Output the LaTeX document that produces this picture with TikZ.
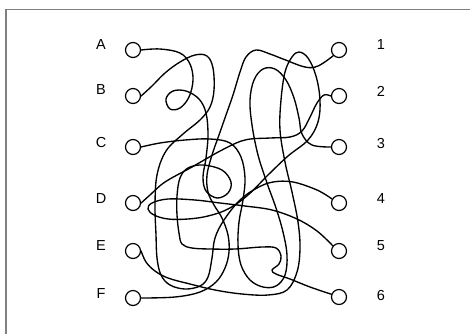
\documentclass[tikz,border=0pt]{standalone}
\usepackage{fontspec}
\setmainfont{Liberation Sans}
\begin{document}
\begin{tikzpicture}[x=1pt,y=-1pt,
  ring/.style={circle,draw,line width=1.2pt,minimum size=15pt,inner sep=0pt},
  wire/.style={line width=1.35pt,line cap=round,line join=round},
  lbl/.style={font=\fontsize{14.5}{16}\selectfont,inner sep=0pt},
  frameline/.style={draw=black!50,line width=1.4pt}]
\useasboundingbox (0,0) rectangle (470,333);
\draw[frameline] (6,345) -- (6,9.3) -- (480,9.3);
% labels
\node[lbl] (lA) at (101,45) {A};
\node[lbl] (lB) at (101,90) {B};
\node[lbl] (lC) at (101,143) {C};
\node[lbl] (lD) at (101,199) {D};
\node[lbl] (lE) at (101,246) {E};
\node[lbl] (lF) at (101,294) {F};
\node[lbl] (l1) at (381,45) {1};
\node[lbl] (l2) at (381,91) {2};
\node[lbl] (l3) at (381,144) {3};
\node[lbl] (l4) at (381,199) {4};
\node[lbl] (l5) at (381,246) {5};
\node[lbl] (l6) at (381,295) {6};
% circles
\node[ring] (A) at (133,50) {};
\node[ring] (B) at (133,96) {};
\node[ring] (C) at (133,147) {};
\node[ring] (D) at (133,203) {};
\node[ring] (E) at (133,251) {};
\node[ring] (F) at (133,298) {};
\node[ring] (n1) at (339,50) {};
\node[ring] (n2) at (339,96) {};
\node[ring] (n3) at (339,147) {};
\node[ring] (n4) at (339,203) {};
\node[ring] (n5) at (339,251) {};
\node[ring] (n6) at (339,297) {};
% A -> 6
\draw[wire] plot[smooth,tension=0.6] coordinates {(A.east) (160,49) (180,53) (190,64) (193,80) (189,97) (180,108) (170,109) (166,99) (173,91) (186,91) (199,99) (206,113) (208,135) (206,158) (203,177) (206,191) (217,198) (228,193) (231,182) (222,170) (203,165) (188,168) (180,178) (177,196) (177,215) (179,233) (182,244) (192,248) (210,249) (235,249) (262,247) (276,248) (281,256) (279,264) (272,270) (276,274) (290,279) (310,287) (n6.160)};
% B -> 4
\draw[wire] plot[smooth,tension=0.6] coordinates {(B.east) (152,86) (165,73) (180,62) (195,55) (207,56) (213,68) (214,90) (210,107) (200,120) (183,134) (166,151) (157,175) (155,205) (156,235) (157,258) (161,275) (170,285) (185,289) (200,286) (208,277) (212,258) (215,238) (224,220) (240,200) (257,188) (273,182) (293,182) (317,190) (n4.150)};
% C -> 3
\draw[wire] plot[smooth,tension=0.6] coordinates {(C.east) (160,143) (185,140) (210,139) (230,143) (241,157) (245,178) (243,200) (239,222) (238,245) (241,265) (250,280) (263,287) (276,286) (285,275) (287,255) (283,232) (276,208) (267,183) (258,155) (252,125) (250,100) (254,80) (263,69) (275,69) (286,80) (294,98) (299,118) (302,134) (312,145) (n3.west)};
% D -> 2
\draw[wire] plot[smooth,tension=0.6] coordinates {(D.east) (150,195) (165,182) (192,167) (222,150) (245,140) (270,138) (290,137) (302,131) (310,117) (317,103) (324,95) (n2.west)};
% E -> 5
\draw[wire] plot[smooth,tension=0.6] coordinates {(E.east) (146,262) (155,271) (168,278) (190,284) (215,290) (242,294) (268,295) (287,290) (297,272) (300,248) (298,222) (292,192) (285,162) (280,130) (281,100) (285,72) (292,57) (299,52) (308,58) (316,76) (320,100) (318,122) (308,140) (288,156) (268,175) (248,195) (228,209) (208,216) (188,219) (168,219) (154,215) (148,209) (152,203) (168,199) (195,200) (220,203) (245,206) (272,210) (297,219) (317,231) (n5.140)};
% F -> 1
\draw[wire] plot[smooth,tension=0.6] coordinates {(F.east) (175,297) (200,292) (216,282) (225,268) (229,252) (228,235) (222,218) (214,205) (208,192) (207,175) (212,155) (219,135) (226,115) (233,95) (240,72) (246,57) (256,50) (270,54) (283,59) (305,67) (318,66) (n1.225)};
\end{tikzpicture}
\end{document}
